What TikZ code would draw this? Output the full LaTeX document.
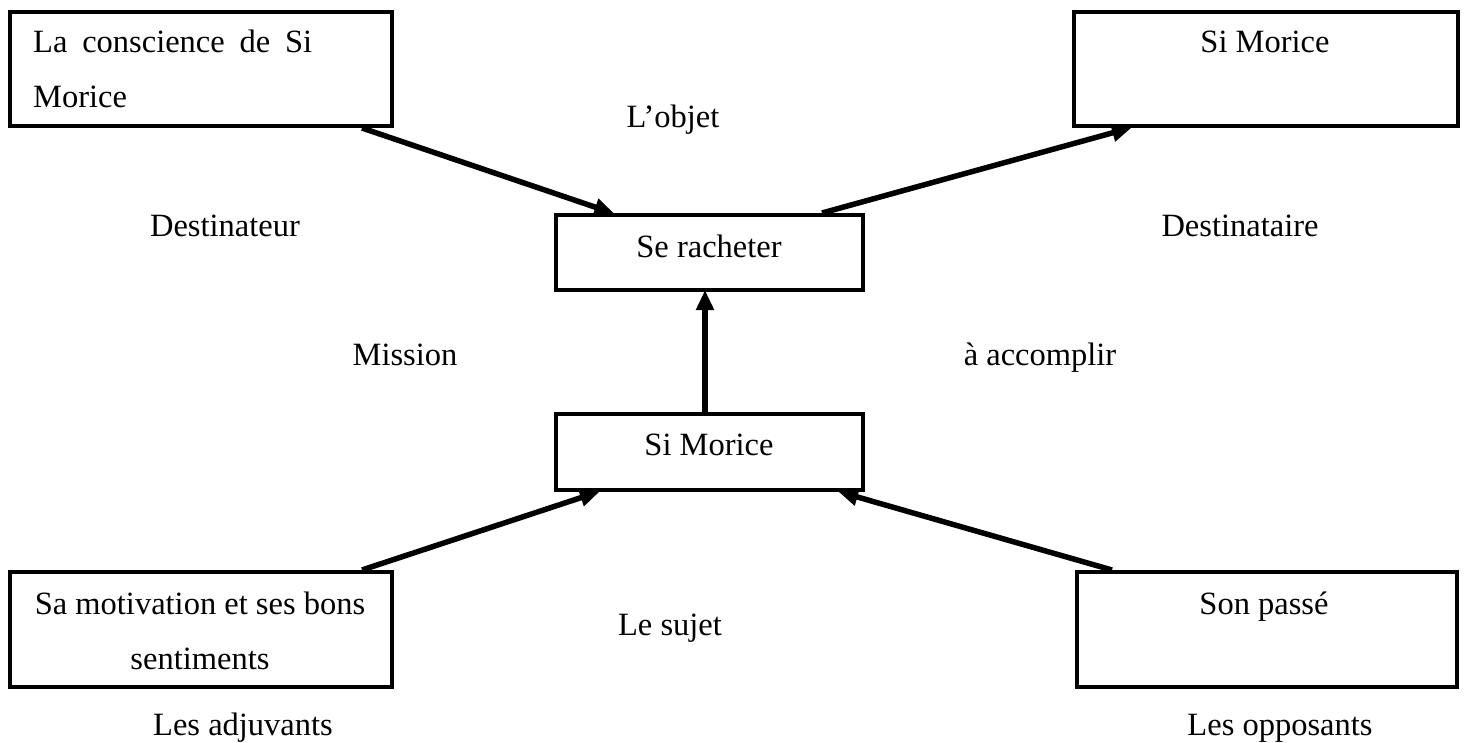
\documentclass[tikz,border=0pt]{standalone}
\usepackage{fontspec}
\setmainfont{Liberation Serif}
\usetikzlibrary{arrows.meta,calc}
\begin{document}
\begin{tikzpicture}[x=1pt,y=-1pt,
  box/.style={draw=black,line width=4pt,rectangle,inner sep=0pt},
  txt/.style={inner sep=0pt,anchor=base,font=\fontsize{32.5}{39}\selectfont},
  conn/.style={line width=5.5pt,-{Triangle[length=20pt,width=17pt]},shorten >=-2pt}]
\useasboundingbox (0,0) rectangle (1464,742);
% boxes
\node[box,minimum width=382pt,minimum height=114pt] (tl) at (201,69) {};
\node[box,minimum width=384pt,minimum height=114pt] (tr) at (1266,69) {};
\node[box,minimum width=307pt,minimum height=75pt] (sr) at (709.5,252.5) {};
\node[box,minimum width=307pt,minimum height=76pt] (sm) at (709.5,452) {};
\node[box,minimum width=382pt,minimum height=115pt] (bl) at (201,629.5) {};
\node[box,minimum width=380pt,minimum height=115pt] (br) at (1267,629.5) {};
% box texts
\node[txt,anchor=base west] (tl1) at (33,52) {\makebox[279pt][s]{La conscience de Si}};
\node[txt,anchor=base west] (tl2) at (33,107) {Morice};
\node[txt] (trt) at (1265,52) {Si Morice};
\node[txt] (srt) at (709,257) {Se racheter};
\node[txt] (smt) at (709,455) {Si Morice};
\node[txt] (bl1) at (200,614) {Sa motivation et ses bons};
\node[txt] (bl2) at (200,669) {sentiments};
\node[txt] (brt) at (1264,614) {Son passé};
% free labels
\node[txt] (objet) at (673,127) {L’objet};
\node[txt] (dest) at (225,236) {Destinateur};
\node[txt] (desta) at (1240,236) {Destinataire};
\node[txt] (miss) at (405,365) {Mission};
\node[txt] (acc) at (1040,365) {à accomplir};
\node[txt] (suj) at (670,635) {Le sujet};
\node[txt] (adj) at (243,735) {Les adjuvants};
\node[txt] (opp) at (1280,735) {Les opposants};
% connectors
\draw[conn] ([xshift=161pt]tl.south) -- ([xshift=-97pt]sr.north);
\draw[conn] ([xshift=112.5pt]sr.north) -- ([xshift=-136pt]tr.south);
\draw[conn] ([xshift=-4.5pt]sm.north) -- ([xshift=-4.5pt]sr.south);
\draw[conn] ([xshift=161pt]bl.north) -- ([xshift=-111.5pt]sm.south);
\draw[conn] ([xshift=-155pt]br.north) -- ([xshift=130.5pt]sm.south);
\end{tikzpicture}
\end{document}
